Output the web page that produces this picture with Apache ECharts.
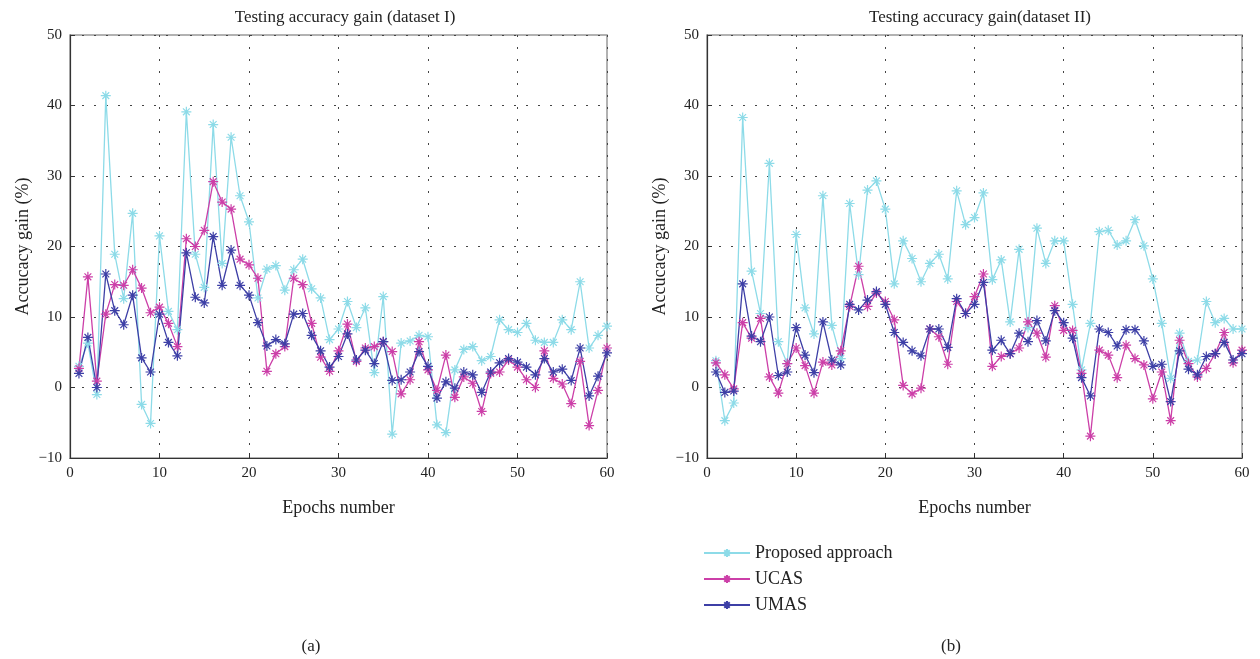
<!DOCTYPE html>
<html>
<head>
<meta charset="utf-8">
<script src="https://cdn.jsdelivr.net/npm/echarts@6/dist/echarts.min.js"></script>
<style>
html,body{margin:0;padding:0;background:#fff;}
#main{width:1260px;height:659px;}
</style>
</head>
<body>
<div id="main"></div>
<script>
var epochs=[1,2,3,4,5,6,7,8,9,10,11,12,13,14,15,16,17,18,19,20,21,22,23,24,25,26,27,28,29,30,
	31,32,33,34,35,36,37,38,39,40,41,42,43,44,45,46,47,48,49,50,51,52,53,54,55,56,57,58,59,60];
var xTicks=[0,10,20,30,40,50,60];
var yTicks=[-10,0,10,20,30,40,50];
var seriesNames=["Proposed approach","UCAS","UMAS"];

// dataset I
var propI=[3.0,6.3,-1.0,41.4,18.9,12.6,24.7,-2.4,-5.1,21.5,10.8,8.2,39.1,18.9,14.2,37.3,17.6,35.5,27.2,23.5,
	12.7,16.8,17.3,13.8,16.7,18.2,14.0,12.7,6.8,8.3,12.2,8.5,11.3,2.1,12.9,-6.6,6.3,6.6,7.4,7.2,
	-5.3,-6.4,2.5,5.4,5.8,3.8,4.4,9.6,8.2,7.8,9.1,6.7,6.4,6.4,9.6,8.2,15.0,5.6,7.4,8.7];
var ucasI=[2.7,15.7,0.9,10.4,14.6,14.5,16.7,14.1,10.6,11.4,9.1,5.8,21.1,20.0,22.3,29.2,26.3,25.3,18.2,17.4,
	15.5,2.3,4.8,5.8,15.5,14.6,9.1,4.3,2.3,5.2,9.0,3.7,5.6,5.8,6.5,5.1,-0.9,1.1,6.5,2.5,
	-0.4,4.6,-1.4,1.5,0.6,-3.4,2.0,2.2,3.9,2.9,1.1,0.0,5.2,1.3,0.5,-2.3,3.7,-5.4,-0.4,5.6];
var umasI=[2.0,7.1,0.0,16.1,10.9,8.9,13.1,4.2,2.2,10.4,6.4,4.5,19.1,12.8,12.0,21.4,14.5,19.5,14.5,13.1,
	9.2,5.9,6.8,6.2,10.4,10.5,7.4,5.2,2.9,4.4,7.6,3.9,5.3,3.4,6.5,1.0,1.1,2.2,5.1,3.0,
	-1.5,0.8,-0.1,2.2,1.8,-0.7,2.2,3.5,4.1,3.6,2.9,1.8,4.1,2.2,2.6,1.0,5.6,-1.2,1.6,4.9];

// dataset II
var propII=[3.8,-4.7,-2.2,38.3,16.5,10.5,31.8,6.5,3.4,21.7,11.3,7.6,27.2,8.8,4.1,26.1,16.0,28.0,29.3,25.3,
	14.7,20.8,18.3,15.0,17.6,18.9,15.4,27.9,23.1,24.1,27.6,15.3,18.1,9.3,19.6,8.5,22.6,17.6,20.8,20.8,
	11.8,2.5,9.1,22.1,22.3,20.2,20.8,23.8,20.1,15.4,9.1,1.3,7.7,3.7,3.9,12.2,9.2,9.8,8.3,8.3];
var ucasII=[3.5,1.8,-0.2,9.2,7.0,9.8,1.5,-0.8,3.4,5.6,3.1,-0.8,3.6,3.2,5.2,11.5,17.2,11.5,13.4,12.2,
	9.6,0.3,-0.9,-0.1,8.3,7.2,3.3,12.2,10.5,12.9,16.1,3.0,4.4,4.8,5.6,9.3,7.7,4.3,11.6,8.1,
	8.1,2.0,-6.9,5.3,4.6,1.4,6.0,4.1,3.2,-1.6,2.2,-4.7,6.7,3.4,1.5,2.7,4.8,7.8,3.5,5.3];
var umasII=[2.2,-0.7,-0.5,14.7,7.3,6.5,10.0,1.7,2.2,8.5,4.6,2.1,9.3,3.9,3.2,11.8,11.0,12.4,13.6,11.8,
	7.8,6.4,5.2,4.5,8.3,8.3,5.7,12.6,10.5,11.8,14.9,5.3,6.7,4.8,7.7,6.5,9.5,6.6,10.9,9.2,
	7.0,1.4,-1.2,8.3,7.8,5.9,8.2,8.2,6.6,3.0,3.3,-2.0,5.2,2.6,1.8,4.4,4.8,6.4,3.9,4.8];

var colors=["#8ddbe8","#cc3fa8","#3d3fa6"];
var fontFam="'Liberation Serif', 'DejaVu Serif', serif";
var star='path://M5,0L5,10M0,5L10,5M1.6,1.6L8.4,8.4M1.6,8.4L8.4,1.6';

function pairs(vals){
	var out=[];
	for(var i=0;i<epochs.length;i++){
		out.push([epochs[i],vals[i]]);
	}
	return out;
}
function makeX(idx){
	return {
		type:'value',gridIndex:idx,min:xTicks[0],max:xTicks[xTicks.length-1],interval:10,
		name:'Epochs number',nameLocation:'middle',nameGap:41,
		nameTextStyle:{fontFamily:fontFam,fontSize:18,color:'#222'},
		axisLine:{onZero:false,lineStyle:{color:'#333',width:1.2}},
		axisTick:{inside:true,length:5,lineStyle:{color:'#333'}},
		axisLabel:{fontFamily:fontFam,fontSize:15,color:'#222',margin:8},
		splitLine:{show:true,lineStyle:{color:'#444',type:[2,10],width:1}}
	};
}
function makeY(idx){
	return {
		type:'value',gridIndex:idx,min:yTicks[0],max:yTicks[yTicks.length-1],interval:10,
		name:'Accucacy gain (%)',nameLocation:'middle',nameGap:38,
		nameTextStyle:{fontFamily:fontFam,fontSize:18,color:'#222'},
		axisLine:{show:true,onZero:false,lineStyle:{color:'#333',width:1.2}},
		axisTick:{show:true,inside:true,length:5,lineStyle:{color:'#333'}},
		axisLabel:{fontFamily:fontFam,fontSize:15,color:'#222',margin:8,
			formatter:function(v){return String(v).replace('-','\u2212');}},
		splitLine:{show:true,lineStyle:{color:'#444',type:[2,10],width:1}}
	};
}
function makeSeries(name,vals,idx,c){
	return {
		name:name,type:'line',xAxisIndex:idx,yAxisIndex:idx,
		data:pairs(vals),
		symbol:star,symbolSize:10,
		lineStyle:{color:c,width:1.3},
		itemStyle:{color:c,borderColor:c,borderWidth:1.2},
		animation:false
	};
}

var myChart=echarts.init(document.getElementById('main'));
var option={
	backgroundColor:'#fff',
	title:[
		{text:'Testing accuracy gain (dataset I)',left:340,top:4,textAlign:'center',
			textStyle:{fontFamily:fontFam,fontSize:17,fontWeight:'normal',color:'#222'}},
		{text:'Testing accuracy gain(dataset II)',left:975,top:4,textAlign:'center',
			textStyle:{fontFamily:fontFam,fontSize:17,fontWeight:'normal',color:'#222'}},
		{text:'(a)',left:306,top:633,textAlign:'center',
			textStyle:{fontFamily:fontFam,fontSize:17,fontWeight:'normal',color:'#222'}},
		{text:'(b)',left:946,top:633,textAlign:'center',
			textStyle:{fontFamily:fontFam,fontSize:17,fontWeight:'normal',color:'#222'}}
	],
	legend:{
		orient:'vertical',left:698,top:539,itemGap:8,itemWidth:46,itemHeight:10,
		data:seriesNames,
		textStyle:{fontFamily:fontFam,fontSize:18,color:'#222'}
	},
	grid:[
		{left:70,right:653,top:35,bottom:201,show:true,borderColor:'#999',borderWidth:1.5},
		{left:707,right:18,top:35,bottom:201,show:true,borderColor:'#999',borderWidth:1.5}
	],
	xAxis:[makeX(0),makeX(1)],
	yAxis:[makeY(0),makeY(1)],
	series:[
		makeSeries(seriesNames[0],propI,0,colors[0]),
		makeSeries(seriesNames[1],ucasI,0,colors[1]),
		makeSeries(seriesNames[2],umasI,0,colors[2]),
		makeSeries(seriesNames[0],propII,1,colors[0]),
		makeSeries(seriesNames[1],ucasII,1,colors[1]),
		makeSeries(seriesNames[2],umasII,1,colors[2])
	]
};
myChart.setOption(option);
</script>
</body>
</html>
